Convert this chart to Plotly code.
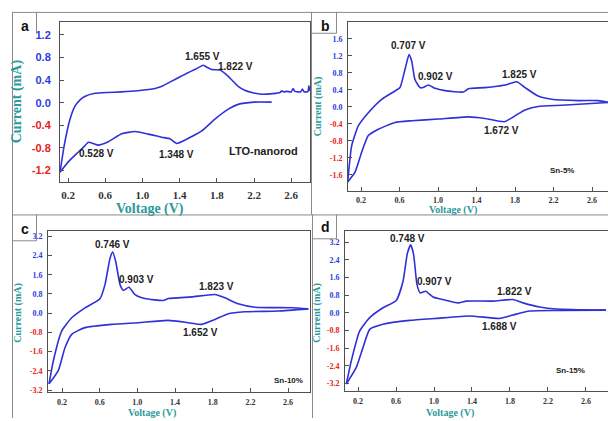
import plotly.graph_objects as go

W, H = 608, 421

# ---------------- data ----------------
# Panel a: LTO-nanorod
a_up_v = [0.114, 0.16, 0.22, 0.275, 0.33, 0.38, 0.49, 0.62, 0.777, 0.95, 1.135, 1.21, 1.28, 1.35, 1.42, 1.49, 1.57, 1.655, 1.70, 1.745, 1.834, 1.92, 2.03, 2.10, 2.175, 2.28, 2.40, 2.48, 2.50, 2.52, 2.55, 2.60, 2.62, 2.64, 2.70, 2.72, 2.74, 2.78, 2.79, 2.80]
a_up_i = [-1.23, -0.75, -0.30, -0.06, 0.05, 0.11, 0.165, 0.18, 0.19, 0.21, 0.25, 0.29, 0.35, 0.41, 0.47, 0.53, 0.59, 0.66, 0.62, 0.585, 0.575, 0.47, 0.29, 0.22, 0.18, 0.15, 0.16, 0.18, 0.21, 0.19, 0.20, 0.19, 0.25, 0.20, 0.19, 0.24, 0.19, 0.20, 0.30, 0.21]
a_dn_v = [0.114, 0.2, 0.31, 0.37, 0.42, 0.47, 0.526, 0.633, 0.777, 0.92, 1.063, 1.207, 1.30, 1.369, 1.494, 1.637, 1.78, 1.924, 2.03, 2.2, 2.39]
a_dn_i = [-1.23, -1.05, -0.875, -0.78, -0.70, -0.72, -0.75, -0.69, -0.55, -0.51, -0.555, -0.61, -0.64, -0.72, -0.63, -0.50, -0.29, -0.115, -0.03, 0.01, 0.01]

# Panel b: Sn-5%
b_up_v = [0.062, 0.103, 0.172, 0.276, 0.415, 0.553, 0.605, 0.657, 0.699, 0.727, 0.76, 0.813, 0.845, 0.90, 0.969, 1.073, 1.263, 1.315, 1.488, 1.696, 1.818, 1.904, 2.04, 2.18, 2.458, 2.665, 2.77]
b_up_i = [-1.77, -0.92, -0.45, -0.14, 0.175, 0.37, 0.45, 0.876, 1.226, 1.07, 0.64, 0.45, 0.45, 0.51, 0.432, 0.378, 0.346, 0.425, 0.45, 0.51, 0.588, 0.45, 0.25, 0.175, 0.144, 0.144, 0.10]
b_dn_v = [0.062, 0.138, 0.207, 0.276, 0.38, 0.553, 0.727, 1.003, 1.315, 1.488, 1.689, 1.80, 1.904, 2.04, 2.286, 2.77]
b_dn_i = [-1.77, -1.54, -1.07, -0.68, -0.53, -0.37, -0.33, -0.29, -0.24, -0.276, -0.355, -0.215, -0.075, 0.004, 0.035, 0.10]

# Panel c: Sn-10%
c_up_v = [0.062, 0.108, 0.197, 0.303, 0.444, 0.603, 0.656, 0.71, 0.738, 0.77, 0.816, 0.851, 0.911, 0.975, 1.08, 1.275, 1.33, 1.577, 1.824, 1.93, 2.07, 2.25, 2.64, 2.815]
c_up_i = [-2.94, -1.98, -0.74, -0.19, 0.22, 0.60, 1.19, 2.29, 2.54, 2.15, 1.19, 0.955, 1.08, 0.775, 0.61, 0.53, 0.61, 0.68, 0.775, 0.64, 0.39, 0.25, 0.225, 0.18]
c_dn_v = [0.062, 0.16, 0.232, 0.303, 0.444, 0.727, 1.01, 1.328, 1.54, 1.683, 1.824, 1.965, 2.14, 2.496, 2.815]
c_dn_i = [-2.94, -2.39, -1.43, -0.88, -0.60, -0.465, -0.395, -0.30, -0.395, -0.465, -0.26, -0.02, 0.06, 0.09, 0.18]

# Panel d: Sn-15%
d_up_v = [0.077, 0.13, 0.218, 0.323, 0.463, 0.603, 0.674, 0.72, 0.755, 0.786, 0.821, 0.856, 0.913, 0.99, 1.095, 1.253, 1.34, 1.62, 1.83, 1.937, 2.113, 2.287, 2.81]
d_up_i = [-3.23, -2.17, -0.82, -0.22, 0.23, 0.56, 1.43, 2.70, 3.08, 2.63, 1.28, 0.90, 0.98, 0.72, 0.60, 0.45, 0.53, 0.53, 0.60, 0.45, 0.26, 0.17, 0.12]
d_dn_v = [0.077, 0.182, 0.253, 0.323, 0.463, 0.744, 1.024, 1.376, 1.69, 1.83, 2.007, 2.323, 2.81]
d_dn_i = [-3.23, -2.48, -1.57, -0.75, -0.52, -0.345, -0.255, -0.147, -0.255, -0.10, 0.08, 0.105, 0.12]

x_ticks = [0.2, 0.6, 1.0, 1.4, 1.8, 2.2, 2.6]
y_ticks_a = [1.2, 0.8, 0.4, 0.0, -0.4, -0.8, -1.2]
y_ticks_b = [1.6, 1.2, 0.8, 0.4, 0.0, -0.4, -0.8, -1.2, -1.6]
y_ticks_cd = [3.2, 2.4, 1.6, 0.8, 0.0, -0.8, -1.6, -2.4, -3.2]

panel_letters = ["a", "b", "c", "d"]
sample_names = ["LTO-nanorod", "Sn-5%", "Sn-10%", "Sn-15%"]

peak_labels_a = ["1.655 V", "1.822 V", "0.528 V", "1.348 V"]
peak_pos_a = [(1.65, 0.81), (2.0, 0.64), (0.51, -0.90), (1.37, -0.92)]
peak_labels_b = ["0.707 V", "0.902 V", "1.825 V", "1.672 V"]
peak_pos_b = [(0.69, 1.44), (0.97, 0.70), (1.85, 0.76), (1.66, -0.55)]
peak_labels_c = ["0.746 V", "0.903 V", "1.823 V", "1.652 V"]
peak_pos_c = [(0.738, 2.84), (0.99, 1.42), (1.84, 1.10), (1.665, -0.81)]
peak_labels_d = ["0.748 V", "0.907 V", "1.822 V", "1.688 V"]
peak_pos_d = [(0.72, 3.35), (1.0, 1.40), (1.85, 0.95), (1.687, -0.60)]

# ---------------- layout geometry (pixels) ----------------
def px(x):
    return x / W

def py(y):
    return 1 - y / H

boxes = {  # left, right, top, bottom in pixels
    "a": (60, 310, 22, 183),
    "b": (348, 608, 22, 192),
    "c": (48, 310, 233, 395),
    "d": (345, 608, 233, 394),
}
xranges = {"a": [0.114, 2.802], "b": [0.065, 2.766], "c": [0.051, 2.833], "d": [0.063, 2.832]}
yranges = {"a": [-1.396, 1.428], "b": [-1.975, 1.997], "c": [-3.288, 3.407], "d": [-3.557, 3.695]}

BLUE_LINE = "#3030d8"
TICK_BLUE = "#2b3be0"
TICK_RED = "#e82020"
TEAL = "#2a9a9a"
FRAME = "#8a8a8a"
AXIS = "#505050"

fig = go.Figure()

data = {
    "a": (a_up_v, a_up_i, a_dn_v, a_dn_i),
    "b": (b_up_v, b_up_i, b_dn_v, b_dn_i),
    "c": (c_up_v, c_up_i, c_dn_v, c_dn_i),
    "d": (d_up_v, d_up_i, d_dn_v, d_dn_i),
}
yticks = {"a": y_ticks_a, "b": y_ticks_b, "c": y_ticks_cd, "d": y_ticks_cd}
labels = {
    "a": (peak_labels_a, peak_pos_a),
    "b": (peak_labels_b, peak_pos_b),
    "c": (peak_labels_c, peak_pos_c),
    "d": (peak_labels_d, peak_pos_d),
}

annotations = []
layout_axes = {}
for k, p in enumerate(panel_letters):
    n = "" if k == 0 else str(k + 1)
    xa, ya = "x" + n, "y" + n
    uv, ui, dv, di = data[p]
    for vv, ii in ((uv, ui), (dv, di)):
        fig.add_trace(go.Scatter(x=vv, y=ii, mode="lines", xaxis=xa, yaxis=ya,
                                 line=dict(color=BLUE_LINE, width=1.6, shape="spline", smoothing=0.5),
                                 showlegend=False, hoverinfo="skip"))
    L, R, T, B = boxes[p]
    big = p == "a"
    tfs = 11 if big else 8
    yt = yticks[p]
    ytext = []
    for v in yt:
        col = TICK_RED if v < 0 else TICK_BLUE
        ytext.append('<span style="color:%s"><b>%.1f</b></span>' % (col, v))
    layout_axes["xaxis" + n] = dict(
        domain=[px(L), px(R)], range=xranges[p], anchor=ya,
        showline=True, linecolor=AXIS, linewidth=1, mirror=True,
        ticks="inside", ticklen=4, tickcolor=AXIS,
        tickvals=x_ticks, ticktext=["<b>%.1f</b>" % v for v in x_ticks],
        tickfont=dict(family="Liberation Serif", size=11 if big else 8, color="#333333"),
        showgrid=False, zeroline=False, fixedrange=True,
        ticklabelstandoff=3 if big else 2,
    )
    layout_axes["yaxis" + n] = dict(
        domain=[py(B), py(T)], range=yranges[p], anchor=xa,
        showline=True, linecolor=AXIS, linewidth=1, mirror=True if p in ("a", "c") else False,
        ticks="inside", ticklen=4, tickcolor=AXIS,
        tickvals=yt, ticktext=ytext,
        tickfont=dict(family="Liberation Sans" if big else "Liberation Serif", size=tfs),
        showgrid=False, zeroline=False, fixedrange=True,
        ticklabelstandoff=6 if big else 3,
    )
    # peak labels
    texts, poss = labels[p]
    for t, (vx, vy) in zip(texts, poss):
        annotations.append(dict(x=vx, y=vy, xref=xa, yref=ya, text="<b>%s</b>" % t,
                                showarrow=False, font=dict(family="Liberation Sans", size=10, color="#222222")))

# sample names
annotations.append(dict(x=2.3, y=-0.85, xref="x", yref="y", text="<b>%s</b>" % sample_names[0], showarrow=False,
                        font=dict(family="Liberation Sans", size=11, color="#222222")))
annotations.append(dict(x=2.29, y=-1.5, xref="x2", yref="y2", text="<b>%s</b>" % sample_names[1], showarrow=False,
                        font=dict(family="Liberation Sans", size=8, color="#222222")))
annotations.append(dict(x=2.6, y=-2.8, xref="x3", yref="y3", text="<b>%s</b>" % sample_names[2], showarrow=False,
                        font=dict(family="Liberation Sans", size=8, color="#222222")))
annotations.append(dict(x=2.44, y=-2.62, xref="x4", yref="y4", text="<b>%s</b>" % sample_names[3], showarrow=False,
                        font=dict(family="Liberation Sans", size=8, color="#222222")))

# axis titles
ytitles = [(17, 102, 14), (318, 107, 10), (18, 315, 10), (317, 315, 10)]
xtitles = [(150, 210, 14), (453, 212, 10), (152, 415.5, 10), (450, 415.5, 10)]
for (x0, y0, fs) in ytitles:
    annotations.append(dict(x=px(x0), y=py(y0), xref="paper", yref="paper", text="<b>Current (mA)</b>",
                            textangle=-90, showarrow=False, xanchor="center", yanchor="middle",
                            font=dict(family="Liberation Serif", size=fs, color=TEAL)))
for (x0, y0, fs) in xtitles:
    annotations.append(dict(x=px(x0), y=py(y0), xref="paper", yref="paper", text="<b>Voltage (V)</b>",
                            showarrow=False, xanchor="center", yanchor="middle",
                            font=dict(family="Liberation Serif", size=fs, color=TEAL)))

# panel letters
letter_pos = [(25, 26), (325, 26), (25, 231), (325, 229)]
for letter, (x0, y0) in zip(panel_letters, letter_pos):
    annotations.append(dict(x=px(x0), y=py(y0), xref="paper", yref="paper", text="<b>%s</b>" % letter,
                            showarrow=False, xanchor="center", yanchor="middle",
                            font=dict(family="Liberation Sans", size=14, color="#111111")))

# frame lines
frame_segments = [
    (12, 12.5, 608, 12.5), (12.5, 12, 12.5, 421),
    (311.5, 12, 311.5, 216), (12, 216.5, 608, 216.5), (312.5, 216, 312.5, 421),
    (36.5, 12, 36.5, 34),
    (336.5, 12, 336.5, 33.5), (311, 33.5, 336.5, 33.5),
    (36.5, 216, 36.5, 242.5), (12, 242.5, 36.5, 242.5),
    (336.5, 216, 336.5, 240.5), (312, 240.5, 336.5, 240.5),
]
shapes = []
for (x0, y0, x1, y1) in frame_segments:
    shapes.append(dict(type="line", xref="paper", yref="paper", x0=px(x0), y0=py(y0), x1=px(x1), y1=py(y1),
                       line=dict(color=FRAME, width=1)))

fig.update_layout(
    width=W, height=H, margin=dict(l=0, r=0, t=0, b=0),
    paper_bgcolor="white", plot_bgcolor="white",
    annotations=annotations, shapes=shapes, showlegend=False,
    **layout_axes,
)

fig.write_html("out.html", config={"displayModeBar": False},
               post_script="document.body.style.margin='0';document.body.style.overflow='hidden';")
